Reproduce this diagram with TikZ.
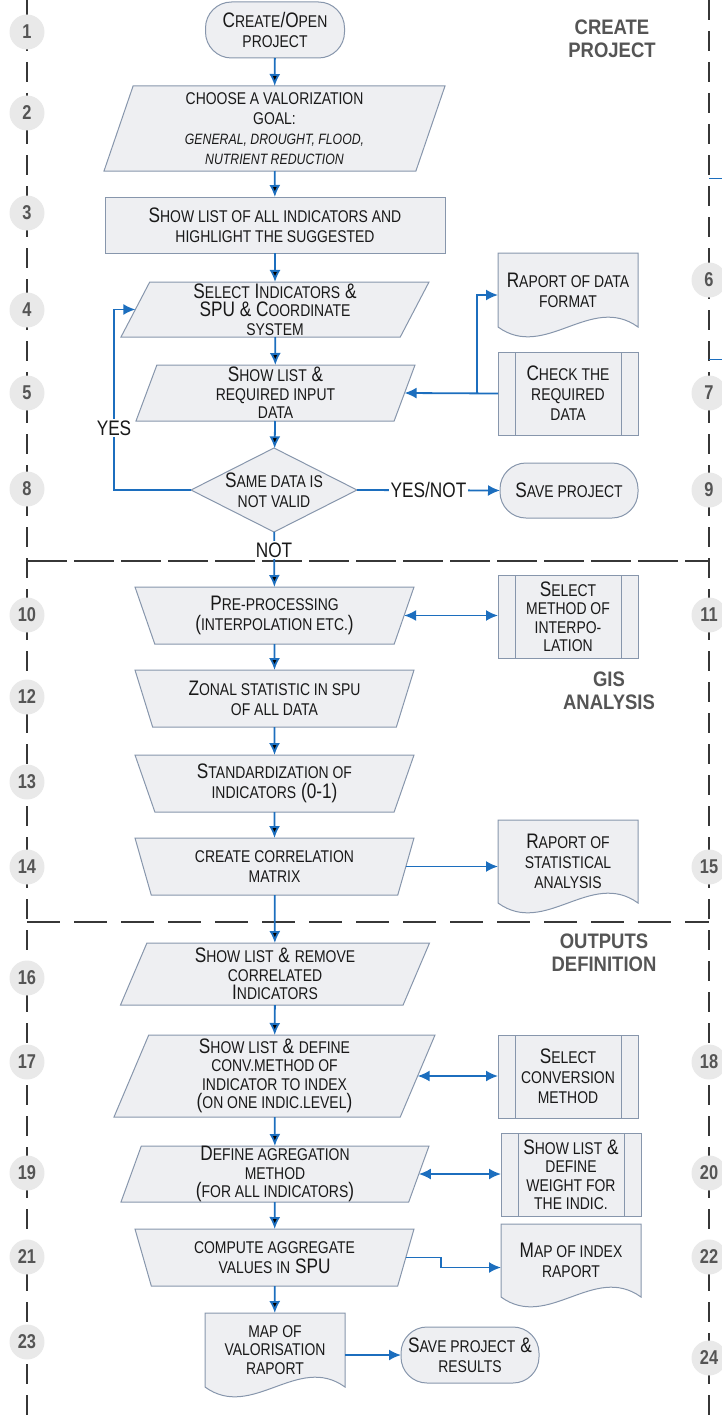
\documentclass[tikz,border=0pt]{standalone}
\usepackage{fontspec}
\setmainfont{Liberation Sans}[FakeStretch=0.82]
\newfontfamily\titlefont{Liberation Sans}[FakeStretch=0.88]
\usetikzlibrary{calc,arrows.meta,shapes.geometric,positioning,backgrounds}

\definecolor{nodefill}{RGB}{238,239,242}
\definecolor{nodeline}{RGB}{135,150,172}
\definecolor{flowblue}{RGB}{28,110,190}
\definecolor{lanegray}{RGB}{55,55,55}
\definecolor{numfill}{RGB}{233,233,233}
\definecolor{numgray}{RGB}{85,85,85}
\definecolor{txt}{RGB}{25,25,25}

\newcommand{\bigtxt}{\fontsize{21}{20}\selectfont}
\newcommand{\tighttxt}{\fontsize{21}{18.5}\selectfont}
\newcommand{\sm}[1]{{\fontsize{17}{20}\selectfont #1}}
\newcommand{\smit}[1]{{\fontsize{15}{20}\selectfont\itshape #1}}

\tikzset{
    shapebase/.style={
    draw=nodeline,fill=nodefill,line width=1pt,text=txt,align=center,inner sep=0pt,outer sep=0pt,font=\bigtxt
    },
    term/.style={
    shapebase,rectangle,rounded corners=26pt,minimum width=139pt,minimum height=56pt
    },
    plain/.style={
    shapebase,rectangle
    },
    io/.style 2 args={
    shapebase,trapezium,trapezium left angle=#1,trapezium right angle=#2,trapezium stretches body=true
    },
    manual/.style={
    shapebase,trapezium,trapezium left angle=117,trapezium right angle=117,trapezium stretches body=true,
    minimum width=279pt,minimum height=57pt
    },
    decision/.style={
    shapebase,diamond,minimum width=166pt,minimum height=84pt
    },
    doc/.style={
    rectangle,inner sep=0pt,outer sep=0pt,align=center,text=txt,font=\bigtxt,minimum width=140pt
    },
    sub/.style={
    shapebase,rectangle,minimum width=140pt,minimum height=83pt
    },
    num/.style={
    circle,fill=numfill,minimum size=35pt,inner sep=0pt,text=numgray,font=\bfseries\fontsize{20}{20}\selectfont
    },
    sect/.style={
    align=center,text=numgray,font=\titlefont\bfseries\fontsize{21}{23}\selectfont
    },
    lbl/.style={
    fill=white,inner sep=2pt,text=txt,font=\bigtxt
    },
    flow/.style={draw=flowblue,line width=1.8pt,->},
    both/.style={draw=flowblue,line width=1.8pt,<->},
    stub/.style={draw=flowblue,line width=1pt},
    lane/.style={draw=lanegray,line width=1.6pt,dash pattern=on 20pt off 11pt},
    sepa/.style={draw=lanegray,line width=1.6pt,dash pattern=on 40pt off 7pt},
    sepb/.style={draw=lanegray,line width=1.6pt,dash pattern=on 33pt off 14pt},
}

\begin{document}
\begin{tikzpicture}[x=1pt,y=-1pt,>={Latex[length=12pt,width=11pt]}]
   \useasboundingbox (0,0) rectangle (722,1418);

   \draw[lane] (27,0) -- (27,1418);
   \draw[lane] (709,0) -- (709,1418);
   \draw[sepa] (27,561) -- (709,561);
   \draw[sepb] (27,922) -- (709,922);

   \foreach \k/\y in {1/32,2/113,3/213,4/310,5/393,8/489,10/615,12/697,13/782,14/867,16/978,17/1062,19/1173,21/1257,23/1342}
      \node[num] (l\k) at (27,\y) {\k};
   \foreach \k/\y in {6/280,7/393,9/490,11/615,15/867,18/1062,20/1173,22/1257,24/1358}
      \node[num] (r\k) at (709,\y) {\k};

   \node[sect] (createT) at (612,38.5) {CREATE\\PROJECT};
   \node[sect] (gisT) at (609,691) {GIS\\ANALYSIS};
   \node[sect] (outT) at (604,952.5) {OUTPUTS\\DEFINITION};

   \node[term] (start) at (275,30) {C\sm{REATE}/O\sm{PEN}\\\sm{PROJECT}};
   \node[io={68}{112},minimum width=341pt,minimum height=85pt] (goal) at (274.5,128.5)
      {\sm{CHOOSE A VALORIZATION}\\\sm{GOAL:}\\\smit{GENERAL, DROUGHT, FLOOD,}\\\smit{NUTRIENT REDUCTION}};
   \node[plain,minimum width=340pt,minimum height=56pt] (list) at (275,225)
      {S\sm{HOW LIST OF ALL INDICATORS AND}\\\sm{HIGHLIGHT THE SUGGESTED}};
   \node[io={61}{119},minimum width=308pt,minimum height=55pt,font=\tighttxt] (select) at (275,309.5)
      {S\sm{ELECT} I\sm{NDICATORS} \&\\SPU \& C\sm{OORDINATE}\\\sm{SYSTEM}};
   \node[io={68}{112},minimum width=279pt,minimum height=56pt,font=\tighttxt] (required) at (275.5,393)
      {S\sm{HOW LIST} \&\\\sm{REQUIRED INPUT}\\\sm{DATA}};
   \node[decision,label={[align=center,font=\bigtxt,text=txt]center:{S\sm{AME DATA IS}\\\sm{NOT VALID}}}] (valid) at (274,490) {};
   \node[term,minimum width=138pt,minimum height=55pt] (save) at (569,490.5) {S\sm{AVE PROJECT}};
   \node[doc,minimum height=74pt] (fmt) at (568,290) {R\sm{APORT OF DATA}\\\sm{FORMAT}};
   \node[sub] (check) at (568,393.5) {C\sm{HECK THE}\\\sm{REQUIRED}\\\sm{DATA}};

   \node[manual] (prep) at (274.5,615.5) {P\sm{RE-PROCESSING}\\(\sm{INTERPOLATION ETC.})};
   \node[sub,font=\tighttxt] (interp) at (568,616.5) {S\sm{ELECT}\\\sm{METHOD OF}\\\sm{INTERPO-}\\\sm{LATION}};
   \node[manual] (zonal) at (274.5,698.5) {Z\sm{ONAL STATISTIC IN SPU}\\\sm{OF ALL DATA}};
   \node[manual] (stand) at (274.5,783.5) {S\sm{TANDARDIZATION OF}\\\sm{INDICATORS} (0-1)};
   \node[manual] (corr) at (274.5,866.5) {\sm{CREATE CORRELATION}\\\sm{MATRIX}};
   \node[doc,minimum height=83pt] (stat) at (568,861.5) {R\sm{APORT OF}\\\sm{STATISTICAL}\\\sm{ANALYSIS}};

   \node[io={63}{117},minimum width=309pt,minimum height=62pt,font=\tighttxt] (remove) at (275,974)
      {S\sm{HOW LIST} \& \sm{REMOVE}\\\sm{CORRELATED}\\I\sm{NDICATORS}};
   \node[io={65}{115},minimum width=321pt,minimum height=82pt,font=\tighttxt] (conv) at (274.5,1076)
      {S\sm{HOW LIST} \& \sm{DEFINE}\\\sm{CONV.METHOD OF}\\\sm{INDICATOR TO INDEX}\\(\sm{ON ONE INDIC.LEVEL})};
   \node[sub] (convsel) at (568,1076.5) {S\sm{ELECT}\\\sm{CONVERSION}\\\sm{METHOD}};
   \node[io={70}{110},minimum width=308pt,minimum height=56pt,font=\tighttxt] (aggr) at (275,1174)
      {D\sm{EFINE AGREGATION}\\\sm{METHOD}\\(\sm{FOR ALL INDICATORS})};
   \node[sub,font=\tighttxt] (weight) at (571,1174.5) {S\sm{HOW LIST} \&\\\sm{DEFINE}\\\sm{WEIGHT FOR}\\\sm{THE INDIC.}};
   \node[manual] (compute) at (274.5,1257.5) {\sm{COMPUTE AGGREGATE}\\\sm{VALUES IN} SPU};
   \node[doc,minimum height=73pt] (idx) at (571,1260.5) {M\sm{AP OF INDEX}\\\sm{RAPORT}};
   \node[doc,minimum height=74pt,font=\tighttxt] (valmap) at (275,1350) {\sm{MAP OF}\\\sm{VALORISATION}\\\sm{RAPORT}};
   \node[term,minimum width=138pt,minimum height=56pt] (final) at (470,1355) {S\sm{AVE PROJECT} \&\\\sm{RESULTS}};

   \begin{scope}[on background layer]
   \foreach \d in {fmt,stat,idx,valmap}
      \path[draw=nodeline,fill=nodefill,line width=1pt]
        (\d.north west) -- (\d.south west)
        .. controls ($(\d.south west)+(47,34)$) and ($(\d.south west)+(93,-34)$) .. (\d.south east)
        -- (\d.north east) -- cycle;
   \end{scope}
   \foreach \p in {check,interp,convsel,weight} {
      \draw[draw=nodeline,line width=1pt] ([xshift=17pt]\p.north west) -- ([xshift=17pt]\p.south west);
      \draw[draw=nodeline,line width=1pt] ([xshift=-17pt]\p.north east) -- ([xshift=-17pt]\p.south east);
   }

  \path[flow]
    (start) edge (goal)
    (goal) edge (list)
    (list) edge (select)
    (select) edge (required)
    (required) edge (valid)
    (valid) edge (prep)
    (prep) edge (zonal)
    (zonal) edge (stand)
    (stand) edge (corr)
    (corr) edge (remove)
    (remove) edge (conv)
    (conv) edge (aggr)
    (aggr) edge (compute)
    (compute) edge (valmap);

   \coordinate (j1) at ($(check.west)+(-21,0)$);
   \draw[flow] (check.west) -- (required.east);
   \draw[flow] (j1) |- ([yshift=-5pt]fmt.west);
   \draw[flow] (valid.west) -- ++(-77,0) |- (select.west);
   \draw[flow] (valid.east) -- node[lbl] (yesnot) {YES/NOT} (save.west);
   \draw[both] (prep.east) -- (prep.east -| interp.west);
   \draw[flow] (corr.east) -- (corr.east -| stat.west);
   \draw[both] (conv.east) -- (conv.east -| convsel.west);
   \draw[both] (aggr.east) -- (aggr.east -| weight.west);
   \draw[flow] (compute.east) -- ++(35,0) |- ([yshift=-7pt]idx.west);
   \draw[flow] (final.west -| valmap.east) -- (final.west);

   \node[lbl] (yes) at (114,428) {YES};
   \node[lbl] (no) at (274,550) {NOT};

   \coordinate (e6a) at (709,178);
   \coordinate (e6b) at (722,178);
   \coordinate (e7a) at (709,359);
   \coordinate (e7b) at (722,359);
   \draw[stub] (e6a) -- (e6b);
   \draw[stub] (e7a) -- (e7b);
\end{tikzpicture}
\end{document}
